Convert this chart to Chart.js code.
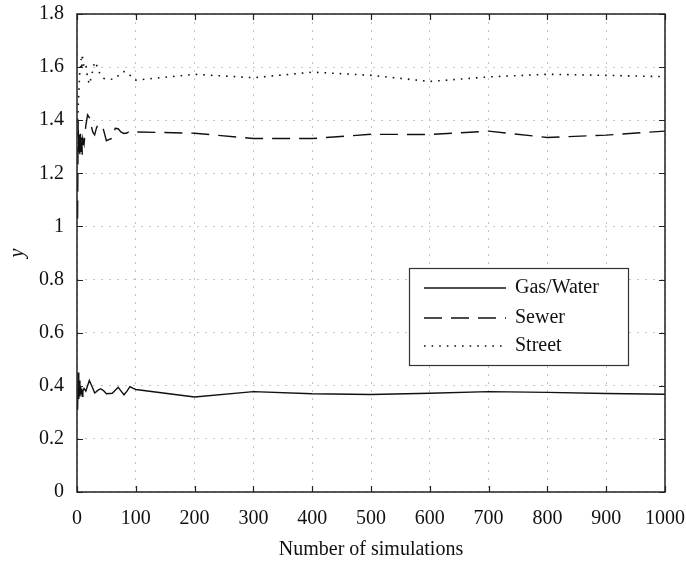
<!DOCTYPE html>
<html>
<head>
<meta charset="utf-8">
<script src="https://cdn.jsdelivr.net/npm/chart.js@4.4.1/dist/chart.umd.min.js"></script>
<style>
  html, body { margin: 0; padding: 0; background: #fff; }
  #wrap { width: 686px; height: 574px; }
</style>
</head>
<body>
<div id="wrap"><canvas id="simChart" width="686" height="574"></canvas></div>
<script>
// number of simulations (x) shared by the three series
const simulations = [1, 2, 3, 4, 5, 6, 7, 8, 9, 10, 12, 15, 18, 21, 24, 27, 30, 33, 36, 40,
  45, 50, 55, 60, 65, 70, 75, 80, 85, 90, 95, 100,
  200, 300, 400, 500, 600, 700, 800, 900, 1000];

const gasWater = [0.31, 0.45, 0.35, 0.42, 0.36, 0.40, 0.37, 0.39, 0.36, 0.38, 0.39, 0.38, 0.40, 0.42, 0.405, 0.39, 0.373, 0.378, 0.384, 0.389,
  0.382, 0.37, 0.371, 0.372, 0.383, 0.394, 0.38, 0.366, 0.38, 0.397, 0.391, 0.386,
  0.358, 0.378, 0.37, 0.367, 0.372, 0.378, 0.375, 0.371, 0.368];

const sewer = [1.03, 1.40, 1.27, 1.36, 1.26, 1.35, 1.28, 1.34, 1.27, 1.33, 1.31, 1.38, 1.42, 1.41, 1.38, 1.355, 1.345, 1.37, 1.386, 1.377,
  1.365, 1.323, 1.328, 1.332, 1.37, 1.368, 1.355, 1.35, 1.352, 1.36, 1.357, 1.356,
  1.351, 1.331, 1.331, 1.347, 1.346, 1.359, 1.335, 1.344, 1.359];

const street = [1.40, 1.45, 1.50, 1.55, 1.60, 1.60, 1.63, 1.59, 1.65, 1.62, 1.60, 1.61, 1.56, 1.535, 1.56, 1.59, 1.62, 1.61, 1.59, 1.57,
  1.558, 1.555, 1.554, 1.555, 1.557, 1.568, 1.58, 1.583, 1.582, 1.57, 1.56, 1.551,
  1.573, 1.56, 1.581, 1.569, 1.546, 1.563, 1.573, 1.569, 1.564];

const seriesNames = ['Gas/Water', 'Sewer', 'Street'];
const xTitle = 'Number of simulations';
const yTitle = 'y';

const serif = "'Liberation Serif', 'Times New Roman', serif";
const toPoints = (ys) => simulations.map((x, i) => ({ x: x, y: ys[i] }));

// box round the plot, inward tick marks and the legend inside the plot
const framePlugin = {
  id: 'frame',
  afterDraw(chart) {
    const ctx = chart.ctx;
    const a = chart.chartArea;
    const xs = chart.scales.x;
    const ys = chart.scales.y;
    ctx.save();
    ctx.strokeStyle = '#222';
    ctx.lineWidth = 1.2;
    ctx.beginPath();
    xs.ticks.forEach(t => {
      const px = Math.round(xs.getPixelForValue(t.value)) + 0.5;
      ctx.moveTo(px, a.bottom); ctx.lineTo(px, a.bottom - 6);
      ctx.moveTo(px, a.top); ctx.lineTo(px, a.top + 6);
    });
    ys.ticks.forEach(t => {
      const py = Math.round(ys.getPixelForValue(t.value)) + 0.5;
      ctx.moveTo(a.left, py); ctx.lineTo(a.left + 6, py);
      ctx.moveTo(a.right, py); ctx.lineTo(a.right - 6, py);
    });
    ctx.stroke();
    ctx.lineWidth = 1.5;
    ctx.strokeRect(a.left, a.top, a.right - a.left, a.bottom - a.top);

    // legend
    const bx = a.right - 256, by = a.top + 254, bw = 219, bh = 97;
    ctx.fillStyle = '#fff';
    ctx.fillRect(bx, by, bw, bh);
    ctx.lineWidth = 1.2;
    ctx.strokeStyle = '#333';
    ctx.strokeRect(bx + 0.5, by + 0.5, bw, bh);
    ctx.font = '20px ' + serif;
    ctx.textBaseline = 'middle';
    ctx.fillStyle = '#111';
    const rows = [20, 50, 78];
    chart.data.datasets.forEach((ds, i) => {
      const y = by + rows[i];
      ctx.beginPath();
      ctx.setLineDash(ds.borderDash || []);
      ctx.strokeStyle = ds.borderColor;
      ctx.lineWidth = ds.borderWidth;
      ctx.moveTo(bx + 15, y);
      ctx.lineTo(bx + 97, y);
      ctx.stroke();
      ctx.setLineDash([]);
      ctx.fillText(ds.label, bx + 106, y);
    });
    ctx.restore();
  }
};

const ctx = document.getElementById('simChart');
new Chart(ctx, {
  type: 'line',
  data: {
    datasets: [
      {
        label: seriesNames[0],
        data: toPoints(gasWater),
        borderColor: '#111',
        borderWidth: 1.4,
        pointRadius: 0,
        tension: 0,
      },
      {
        label: seriesNames[1],
        data: toPoints(sewer),
        borderColor: '#111',
        borderWidth: 1.4,
        borderDash: [18, 9],
        pointRadius: 0,
        tension: 0,
      },
      {
        label: seriesNames[2],
        data: toPoints(street),
        borderColor: '#111',
        borderWidth: 1.6,
        borderDash: [1.6, 6],
        pointRadius: 0,
        tension: 0,
      },
    ],
  },
  options: {
    responsive: false,
    animation: false,
    layout: { padding: { left: 0, top: 14, right: 21, bottom: 0 } },
    scales: {
      x: {
        type: 'linear',
        min: 0,
        max: 1000,
        ticks: {
          stepSize: 100,
          padding: 15,
          color: '#111',
          font: { family: serif, size: 20 },
          maxRotation: 0,
          callback: (v) => String(v),
        },
        grid: { color: '#c4c4c4', lineWidth: 1, drawTicks: false },
        border: { display: false, dash: [2, 6] },
        title: {
          display: true,
          text: xTitle,
          color: '#111',
          font: { family: serif, size: 20 },
          padding: { top: 0, bottom: 12 },
        },
        afterFit(scale) {
          scale.height = 82;
          scale.paddingLeft = 0;
          scale.paddingRight = 0;
        },
      },
      y: {
        min: 0,
        max: 1.8,
        ticks: {
          stepSize: 0.2,
          padding: 13,
          color: '#111',
          font: { family: serif, size: 20 },
          callback: (v) => String(+v.toFixed(1)),
        },
        grid: { color: '#c4c4c4', lineWidth: 1, drawTicks: false },
        border: { display: false, dash: [2, 6] },
        title: {
          display: true,
          text: yTitle,
          color: '#111',
          font: { family: serif, size: 20, style: 'italic' },
          padding: { top: 6, bottom: 0 },
        },
        afterFit(scale) {
          scale.width = 77;
          scale.paddingTop = 0;
          scale.paddingBottom = 0;
        },
      },
    },
    plugins: {
      legend: { display: false },
      tooltip: { enabled: false },
    },
  },
  plugins: [framePlugin],
});
</script>
</body>
</html>
